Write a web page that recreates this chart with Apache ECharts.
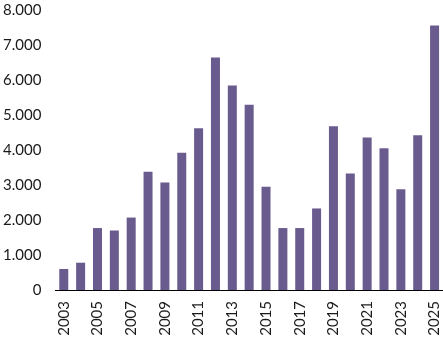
<!DOCTYPE html>
<html><head><meta charset="utf-8">
<script src="https://cdn.jsdelivr.net/npm/echarts@6/dist/echarts.min.js"></script>
<style>html,body{margin:0;padding:0;background:#fff}#c{width:443px;height:340px}</style>
</head><body><div id="c"></div>
<script>
const years = ['2003','2004','2005','2006','2007','2008','2009','2010','2011','2012','2013','2014','2015','2016','2017','2018','2019','2020','2021','2022','2023','2024','2025'];
const values = [600,780,1770,1700,2070,3380,3070,3920,4620,6640,5840,5290,2950,1770,1770,2330,4680,3330,4360,4050,2880,4420,7560];
const yTicks = [0,1000,2000,3000,4000,5000,6000,7000,8000];

const chart = echarts.init(document.getElementById('c'));
chart.setOption({
  animation: false,
  grid: {left: 51, right: 0, top: 10, bottom: 50},
  xAxis: {
    type: 'category', data: years,
    axisLine: {lineStyle: {color: '#000', width: 1}},
    axisTick: {show: false},
    axisLabel: {rotate: 90, interval: 1, margin: 11, color: '#1a1a1a', fontFamily: 'Lato', fontSize: 15}
  },
  yAxis: {
    type: 'value', min: yTicks[0], max: yTicks[yTicks.length-1], interval: 1000,
    splitLine: {show: false}, axisLine: {show: false}, axisTick: {show: false},
    axisLabel: {margin: 14, color: '#1a1a1a', fontFamily: 'Lato', fontSize: 15,
      formatter: v => v === 0 ? '0' : (v/1000) + '.000'}
  },
  series: [{type: 'bar', data: values, barWidth: 9, itemStyle: {color: '#6a5b8e'}}]
});
</script></body></html>
